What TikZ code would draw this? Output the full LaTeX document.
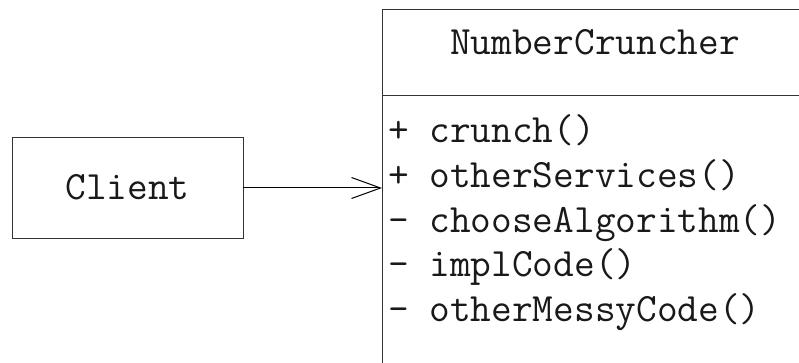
\documentclass[tikz,border=0pt]{standalone}
\usepackage{fontspec}
\usetikzlibrary{arrows.meta}
\begin{document}
\begin{tikzpicture}[x=1pt,y=-1pt,
  umlbox/.style={draw=black!80,line width=1pt,rectangle,inner sep=0pt,outer sep=0pt},
  code/.style={font=\fontsize{40.2}{46}\ttfamily,text=black!90,inner sep=0pt,outer sep=0pt},
  member/.style={code,anchor=base west},
  arr/.style={line width=1pt,-{Straight Barb[length=29pt,width=21pt,line width=1pt]}}]
\useasboundingbox (0,0) rectangle (799,363);
\clip (0,0) rectangle (799,363);
\node[umlbox,minimum width=231pt,minimum height=101pt] (client) at (127.5,188) {};
\node[code,anchor=base] (clientlbl) at (127.5,200) {Client};
\node[umlbox,minimum width=428pt,minimum height=370pt] (nc) at (596,195) {};
\coordinate (divl) at (382,96);
\draw[line width=1pt,draw=black!80] (divl) -- (divl -| nc.east);
\node[code,anchor=base] (title) at (595,55) {NumberCruncher};
\node[member] (m1) at (388,143) {+ crunch()};
\node[member] (m2) at (388,187.5) {+ otherServices()};
\node[member] (m3) at (388,232) {- chooseAlgorithm()};
\node[member] (m4) at (388,276.5) {- implCode()};
\node[member] (m5) at (388,321) {- otherMessyCode()};
\draw[arr] (client.east) -- (client.east -| nc.west);
\end{tikzpicture}
\end{document}
